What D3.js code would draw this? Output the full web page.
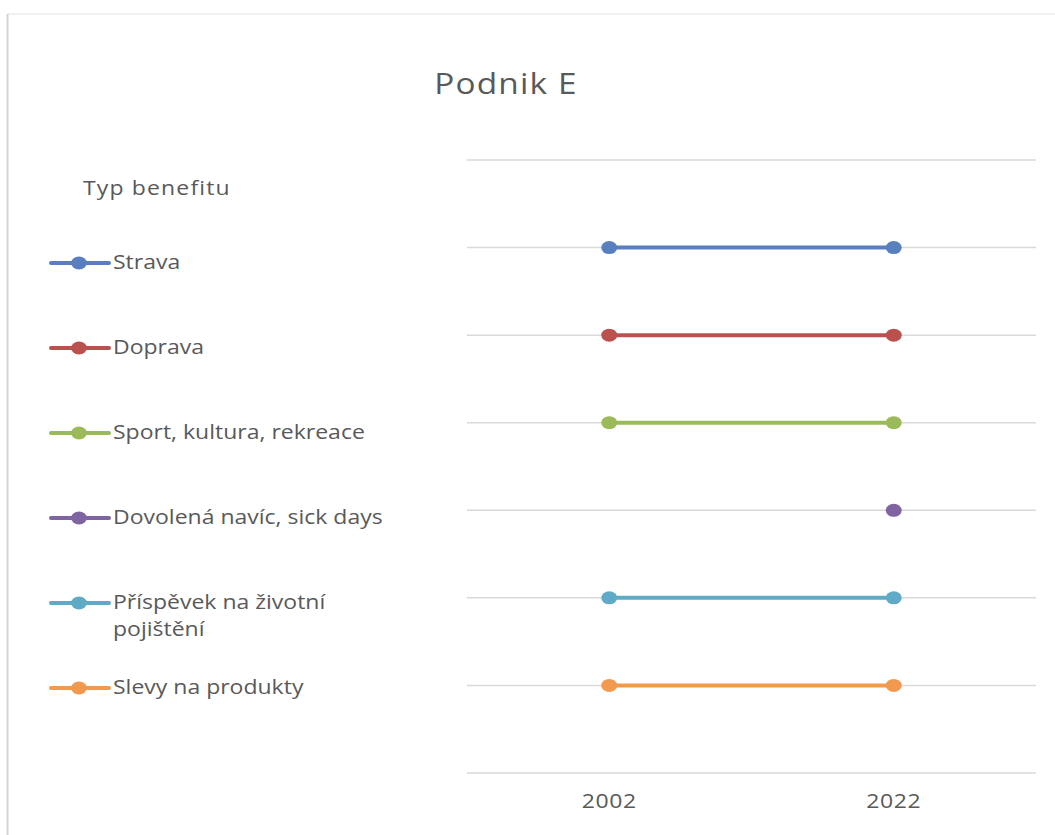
<!DOCTYPE html>
<html>
<head>
<meta charset="utf-8">
<script src="https://cdn.jsdelivr.net/npm/d3@7"></script>
<style>
  html, body { margin: 0; padding: 0; background: #fff; }
  svg { display: block; }
  text { font-family: "Open Sans", "DejaVu Sans", sans-serif; fill: #595959; }
</style>
</head>
<body>
<svg id="chart" width="1055" height="835"></svg>
<script>
// Years on the category axis
const years = ["2002", "2022"];

// Benefit types (legend order, top to bottom)
const benefits = [
  "Strava",
  "Doprava",
  "Sport, kultura, rekreace",
  "Dovolená navíc, sick days",
  "Příspěvek na životní pojištění",
  "Slevy na produkty"
];

// Value of each benefit per year (null = not offered)
const values2002 = [6, 5, 4, null, 2, 1];
const values2022 = [6, 5, 4, 3, 2, 1];

const colors = ["#5a7fbe", "#b9524f", "#9bbb59", "#8064a2", "#5fabc6", "#f0994f"];

// Legend text split into lines
const legendLines = [
  ["Strava"],
  ["Doprava"],
  ["Sport, kultura, rekreace"],
  ["Dovolená navíc, sick days"],
  ["Příspěvek na životní", "pojištění"],
  ["Slevy na produkty"]
];

const yTicks = [0, 1, 2, 3, 4, 5, 6, 7];

// Text in this chart is set slightly wide
const SX = 1.15;

const svg = d3.select("#chart");

// Chart frame
svg.append("line").attr("x1", 7).attr("x2", 1055).attr("y1", 14).attr("y2", 14)
  .attr("stroke", "#ececec").attr("stroke-width", 1.5);
svg.append("line").attr("x1", 7.5).attr("x2", 7.5).attr("y1", 14).attr("y2", 835)
  .attr("stroke", "#d6d6d6").attr("stroke-width", 2);

// Title
svg.append("text").attr("transform", `translate(506,94) scale(${SX},1)`)
  .attr("text-anchor", "middle")
  .style("font-size", "29px").style("letter-spacing", "1px").text("Podnik E");

// Plot area
const plot = { left: 467, right: 1036, top: 160, bottom: 773 };

const x = d3.scaleBand().domain(years).range([plot.left, plot.right]);
const y = d3.scaleLinear().domain([0, 7]).range([plot.bottom, plot.top]);

// Horizontal gridlines
svg.append("g").selectAll("line").data(yTicks).join("line")
  .attr("x1", plot.left).attr("x2", plot.right)
  .attr("y1", d => y(d)).attr("y2", d => y(d))
  .attr("stroke", "#d9d9d9").attr("stroke-width", 1.5);

// X axis labels
const xAxis = d3.axisBottom(x).tickSize(0).tickPadding(0);
const gx = svg.append("g").attr("transform", `translate(0,${plot.bottom})`).call(xAxis);
gx.select(".domain").remove();
gx.selectAll("text").attr("dy", 0).attr("y", 0)
  .attr("transform", `translate(0,35) scale(${SX},1)`)
  .style("font-size", "20px").style("fill", "#595959")
  .style("font-family", "'Open Sans', sans-serif").style("letter-spacing", "0.5px");

// Series
const series = benefits.map((name, i) => ({
  name,
  color: colors[i],
  points: years.map((yr, j) => ({ year: yr, value: (j === 0 ? values2002 : values2022)[i] }))
}));

const line = d3.line()
  .defined(d => d.value != null)
  .x(d => x(d.year) + x.bandwidth() / 2)
  .y(d => y(d.value));

const gs = svg.append("g").selectAll("g").data(series).join("g");
gs.append("path")
  .attr("d", d => line(d.points))
  .attr("fill", "none").attr("stroke", d => d.color).attr("stroke-width", 4)
  .attr("stroke-linecap", "round");
gs.selectAll("ellipse").data(d => d.points.filter(p => p.value != null).map(p => ({ ...p, color: d.color })))
  .join("ellipse")
  .attr("cx", d => x(d.year) + x.bandwidth() / 2)
  .attr("cy", d => y(d.value))
  .attr("rx", 8).attr("ry", 6.5)
  .attr("fill", d => d.color);

// Legend
svg.append("text").attr("transform", `translate(83,195) scale(${SX},1)`)
  .style("font-size", "20px").style("letter-spacing", "1px").text("Typ benefitu");

const legendY = d3.scalePoint().domain(benefits).range([263, 688]);
const lg = svg.append("g").selectAll("g").data(series).join("g")
  .attr("transform", d => `translate(0,${legendY(d.name)})`);
lg.append("line").attr("x1", 51).attr("x2", 109).attr("y1", 0).attr("y2", 0)
  .attr("stroke", d => d.color).attr("stroke-width", 4).attr("stroke-linecap", "round");
lg.append("ellipse").attr("cx", 79).attr("cy", 0).attr("rx", 8).attr("ry", 6.5)
  .attr("fill", d => d.color);
lg.append("text").attr("transform", `translate(113,6) scale(${SX},1)`)
  .style("font-size", "20px").style("letter-spacing", "0px")
  .selectAll("tspan").data((d, i) => legendLines[i]).join("tspan")
  .attr("x", 0).attr("dy", (d, i) => i === 0 ? 0 : 27).text(d => d);
</script>
</body>
</html>
